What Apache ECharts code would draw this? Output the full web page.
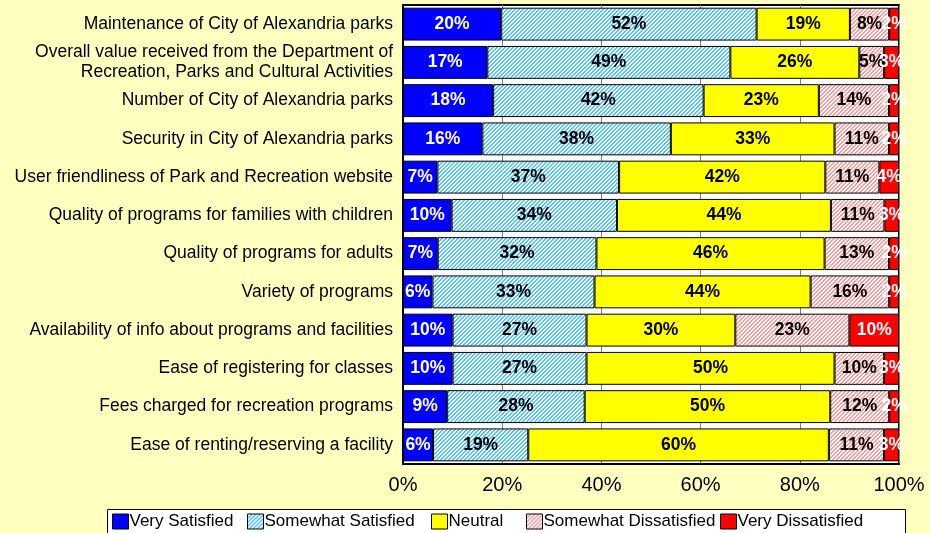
<!DOCTYPE html>
<html><head><meta charset="utf-8">
<script src="https://cdn.jsdelivr.net/npm/echarts@6/dist/echarts.min.js"></script>
<style>html,body{margin:0;padding:0;background:#FFFFC0;}#c{width:930px;height:533px;}</style>
</head><body><div id="c"></div>
<script>
var categories = [
  'Maintenance of City of Alexandria parks',
  'Overall value received from the Department of\nRecreation, Parks and Cultural Activities',
  'Number of City of Alexandria parks',
  'Security in City of Alexandria parks',
  'User friendliness of Park and Recreation website',
  'Quality of programs for families with children',
  'Quality of programs for adults',
  'Variety of programs',
  'Availability of info about programs and facilities',
  'Ease of registering for classes',
  'Fees charged for recreation programs',
  'Ease of renting/reserving a facility'
];
var seriesNames = ['Very Satisfied','Somewhat Satisfied','Neutral','Somewhat Dissatisfied','Very Dissatisfied'];
var verySatisfied      = [20,17,18,16,7,10,7,6,10,10,9,6];
var somewhatSatisfied  = [52,49,42,38,37,34,32,33,27,27,28,19];
var neutral            = [19,26,23,33,42,44,46,44,30,50,50,60];
var somewhatDissat     = [8,5,14,11,11,11,13,16,23,10,12,11];
var veryDissat         = [2,3,2,2,4,3,2,2,10,3,2,3];
var xTicks = ['0%','20%','40%','60%','80%','100%'];
var legendLefts = [112, 247, 431, 526, 720];

var all = [verySatisfied, somewhatSatisfied, neutral, somewhatDissat, veryDissat];
var sums = categories.map(function(_, i){ return all.reduce(function(s, a){ return s + a[i]; }, 0); });

function hatch(bg, fg){
  var c = document.createElement('canvas'); c.width = 4; c.height = 4;
  var g = c.getContext('2d');
  g.fillStyle = bg; g.fillRect(0,0,4,4);
  g.fillStyle = fg;
  for (var i = 0; i < 4; i++){
    g.fillRect(i, 3 - i, 1, 1);
    g.fillRect((i + 1) % 4, 3 - i, 1, 1);
  }
  return {image: c, repeat: 'repeat'};
}
var colors = ['#0000FF', hatch('#FFFFFF', '#4FC4FF'), '#FFFF00', hatch('#FFFFFF', '#FF9A9A'), '#FF0000'];
var labelColors = ['#FFFFFF', '#000000', '#000000', '#000000', '#FFFFFF'];
var FONT = 'Liberation Sans, Arial, sans-serif';

var series = all.map(function(arr, k){
  return {
    name: seriesNames[k], type: 'bar', stack: 'total', barCategoryGap: '14%',
    data: arr.map(function(v, i){ return {value: v / sums[i] * 100, raw: v}; }),
    itemStyle: {color: colors[k], borderColor: '#000', borderWidth: 1},
    label: {show: true, position: 'inside', color: labelColors[k], fontFamily: FONT,
      fontWeight: 'bold', fontSize: 17.5,
      formatter: function(p){ return p.data.raw + '%'; }},
    emphasis: {disabled: true}
  };
});

var legends = seriesNames.map(function(n, k){
  return {left: legendLefts[k], top: 513, itemWidth: 16, itemHeight: 15, padding: 0,
    icon: 'rect', selectedMode: false,
    textStyle: {color: '#000', fontSize: 17, fontFamily: FONT, padding: [0,0,0,-4]},
    itemStyle: {borderColor: '#000', borderWidth: 1},
    data: [n]};
});

var chart = echarts.init(document.getElementById('c'));
chart.setOption({
  backgroundColor: '#FFFFC0',
  animation: false,
  graphic: [{type: 'rect', left: 107, top: 509, z: -1,
    shape: {width: 798, height: 30}, style: {fill: '#FFFFFF', stroke: '#000', lineWidth: 1}}],
  grid: {left: 403, right: 31, top: 5, bottom: 69, show: true, backgroundColor: '#FFFFFF', borderColor: '#000', borderWidth: 2},
  xAxis: {type: 'value', min: 0, max: 100, interval: 20,
    axisLine: {show: true, lineStyle: {color: '#000', width: 2}},
    axisTick: {show: false},
    splitLine: {show: true, lineStyle: {color: '#808080', width: 1}},
    axisLabel: {margin: 11, color: '#000', fontSize: 20, fontFamily: FONT,
      formatter: function(v){ return xTicks[Math.round(v / 20)]; }}
  },
  yAxis: {type: 'category', inverse: true, data: categories,
    axisLine: {show: true, lineStyle: {color: '#000', width: 2}},
    axisTick: {show: false},
    axisLabel: {margin: 10, color: '#000', fontSize: 17.5, lineHeight: 20, align: 'right', fontFamily: FONT}
  },
  legend: legends,
  series: series
});
</script></body></html>
